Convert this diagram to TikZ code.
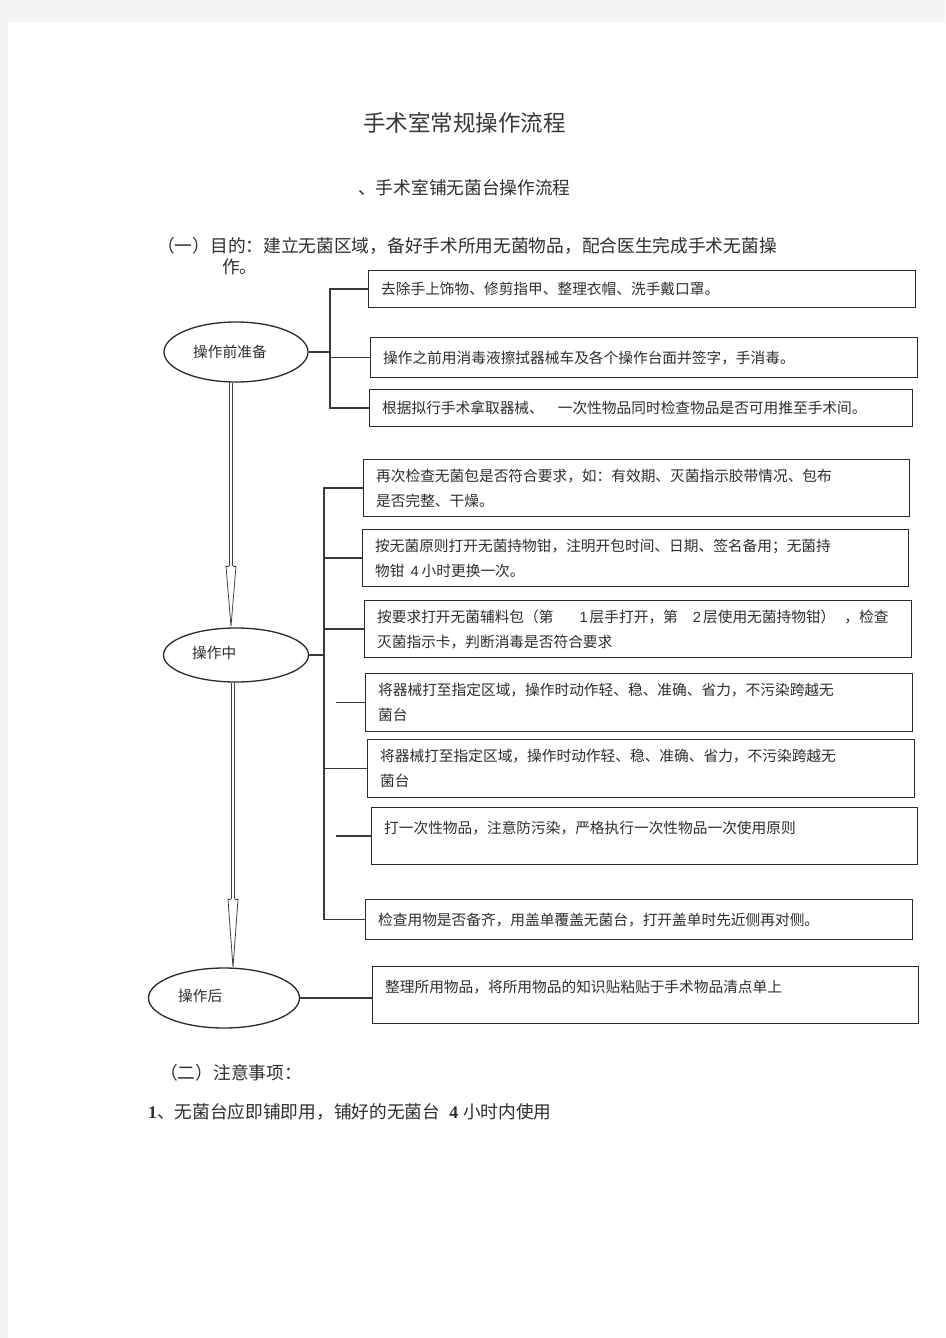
\documentclass[tikz,border=0pt]{standalone}
\usepackage{fontspec}
\setmainfont{Noto Sans CJK SC}
\newfontfamily\lsans{Liberation Sans}
\newfontfamily\lserif{Liberation Serif}
\usetikzlibrary{shapes.geometric,calc}
\definecolor{pagebg}{HTML}{F4F4F4}
\definecolor{ink}{HTML}{2E2E2E}
\definecolor{boxc}{HTML}{2A2A2A}
\definecolor{linec}{HTML}{3A3A3A}
\newcommand{\boxfont}{\fontsize{14.7}{25}\selectfont}
\newcommand{\headfont}{\fontsize{17.7}{20}\selectfont}
\tikzset{
  box/.style n args={2}{draw=boxc, line width=1.3pt, rectangle, anchor=north west,
    inner xsep=12.5pt, inner ysep=0pt, align=left, font=\boxfont, text=ink,
    text width=#1, minimum height=#2},
  oval/.style={draw=boxc, line width=1.3pt, ellipse, inner sep=0pt},
  ovaltext/.style={anchor=west, inner sep=0pt, font=\fontsize{14.7}{16}\selectfont, text=ink},
  plain/.style={anchor=west, inner sep=0pt, text=ink},
  link/.style={draw=linec, line width=1.4pt},
  shaft/.style={draw=black!75, line width=0.8pt, double=white, double distance=2.6pt},
  arrowhead/.style={draw=black!75, line width=0.8pt, fill=white, line join=miter},
}
\begin{document}
\begin{tikzpicture}[x=1pt,y=-1pt]
\useasboundingbox (0,0) rectangle (945,1338);
\fill[pagebg] (0,0) rectangle (945,1338);
\fill[white] (8,22) rectangle (945,1338);

% headings
\node[plain, font=\fontsize{22.5}{24}\selectfont, text=black!78] (title) at (363,123) {手术室常规操作流程};
\node[plain, font=\headfont] (subtitle) at (358,188) {、手术室铺无菌台操作流程};
\node[plain, font=\headfont] (purpose1) at (157,246) {（一）目的：建立无菌区域，备好手术所用无菌物品，配合医生完成手术无菌操};
\node[plain, font=\headfont] (purpose2) at (222,267) {作。};

% ellipses
\node[oval, minimum width=144pt, minimum height=60pt] (e1) at (236,352) {};
\node[ovaltext] (e1t) at (193,352) {操作前准备};
\node[oval, minimum width=145pt, minimum height=54pt] (e2) at (236,655) {};
\node[ovaltext] (e2t) at (192,653) {操作中};
\node[oval, minimum width=151pt, minimum height=60pt] (e3) at (224,998) {};
\node[ovaltext] (e3t) at (178,996) {操作后};

% group A boxes
\node[box={522pt}{37pt}] (a1) at (368,270) {去除手上饰物、修剪指甲、整理衣帽、洗手戴口罩。};
\node[box={522pt}{40pt}] (a2) at (370,337) {操作之前用消毒液擦拭器械车及各个操作台面并签字，手消毒。};
\node[box={518pt}{37pt}] (a3) at (369,389) {根据拟行手术拿取器械、\hspace*{14pt}一次性物品同时检查物品是否可用推至手术间。};

% group B boxes
\node[box={521pt}{57pt}] (b1) at (363,459) {再次检查无菌包是否符合要求，如：有效期、灭菌指示胶带情况、包布\\是否完整、干燥。};
\node[box={521pt}{57pt}] (b2) at (362,529) {按无菌原则打开无菌持物钳，注明开包时间、日期、签名备用；无菌持\\物钳\hspace{6pt}{\lsans 4}\hspace{3pt}小时更换一次。};
\node[box={522pt}{57pt}] (b3) at (364,600) {按要求打开无菌辅料包（第\hspace*{26pt}{\lsans 1}\hspace{2pt}层手打开，第\hspace*{15pt}{\lsans 2}\hspace{2pt}层使用无菌持物钳）\hspace*{9pt}，检查\\灭菌指示卡，判断消毒是否符合要求};
\node[box={522pt}{58pt}] (b4) at (365,673) {将器械打至指定区域，操作时动作轻、稳、准确、省力，不污染跨越无\\菌台};
\node[box={522pt}{58pt}] (b5) at (367,739) {将器械打至指定区域，操作时动作轻、稳、准确、省力，不污染跨越无\\菌台};
\node[box={521pt}{57pt}, text depth=17pt] (b6) at (371,807) {打一次性物品，注意防污染，严格执行一次性物品一次使用原则};
\node[box={522pt}{40pt}] (b7) at (365,899) {检查用物是否备齐，用盖单覆盖无菌台，打开盖单时先近侧再对侧。};

% group C box
\node[box={521pt}{57pt}, text depth=17pt] (c1) at (372,966) {整理所用物品，将所用物品的知识贴粘贴于手术物品清点单上};

% bracket A
\coordinate (ax) at (330,0);
\draw[link] (a1.west) -- (a1.west -| ax) -- (a3.west -| ax) -- (a3.west);
\draw[link] (a2.west) -- (a2.west -| ax);
\draw[link] (e1.east) -- (e1.east -| ax);

% bracket B
\coordinate (bx) at (324,0);
\draw[link] (b1.west) -- (b1.west -| bx) -- (b7.west -| bx) -- (b7.west);
\draw[link] (b2.west) -- (b2.west -| bx);
\draw[link] (b3.west) -- (b3.west -| bx);
\draw[link] (b5.west) -- (b5.west -| bx);
\draw[link] (b4.west) -- ($(b4.west -| bx)+(12,0)$);
\draw[link] (b6.west) -- ($(b6.west -| bx)+(12,0)$);
\draw[link] (e2.east) -- (e2.east -| bx);

% group C link
\draw[link] (e3.east) -- (e3.east -| c1.west);

% arrows
\coordinate (s1) at ($(e1.south)+(-5,0)$);
\coordinate (t1) at ($(e2.north)+(-5,-1)$);
\draw[shaft] (s1) -- ($(t1)+(0,-60)$);
\draw[arrowhead] ($(t1)+(-2.2,-60)$) -- ($(t1)+(-5,-60)$) -- (t1) -- ($(t1)+(5,-60)$) -- ($(t1)+(2.2,-60)$);
\coordinate (s2) at ($(e2.south)+(-3,0)$);
\coordinate (t2) at ($(e3.north)+(9,0)$);
\draw[shaft] (s2) -- ($(t2)+(0,-68)$);
\draw[arrowhead] ($(t2)+(-2.2,-68)$) -- ($(t2)+(-5,-68)$) -- (t2) -- ($(t2)+(5,-68)$) -- ($(t2)+(2.2,-68)$);

% notes
\node[plain, font=\headfont] (notes) at (160,1073) {（二）注意事项：};
\node[plain, font=\headfont] (note1) at (148,1112) {{\lserif\bfseries 1}、无菌台应即铺即用，铺好的无菌台\hspace{9pt}{\lserif\bfseries 4}\hspace{5pt}小时内使用};
\end{tikzpicture}
\end{document}
